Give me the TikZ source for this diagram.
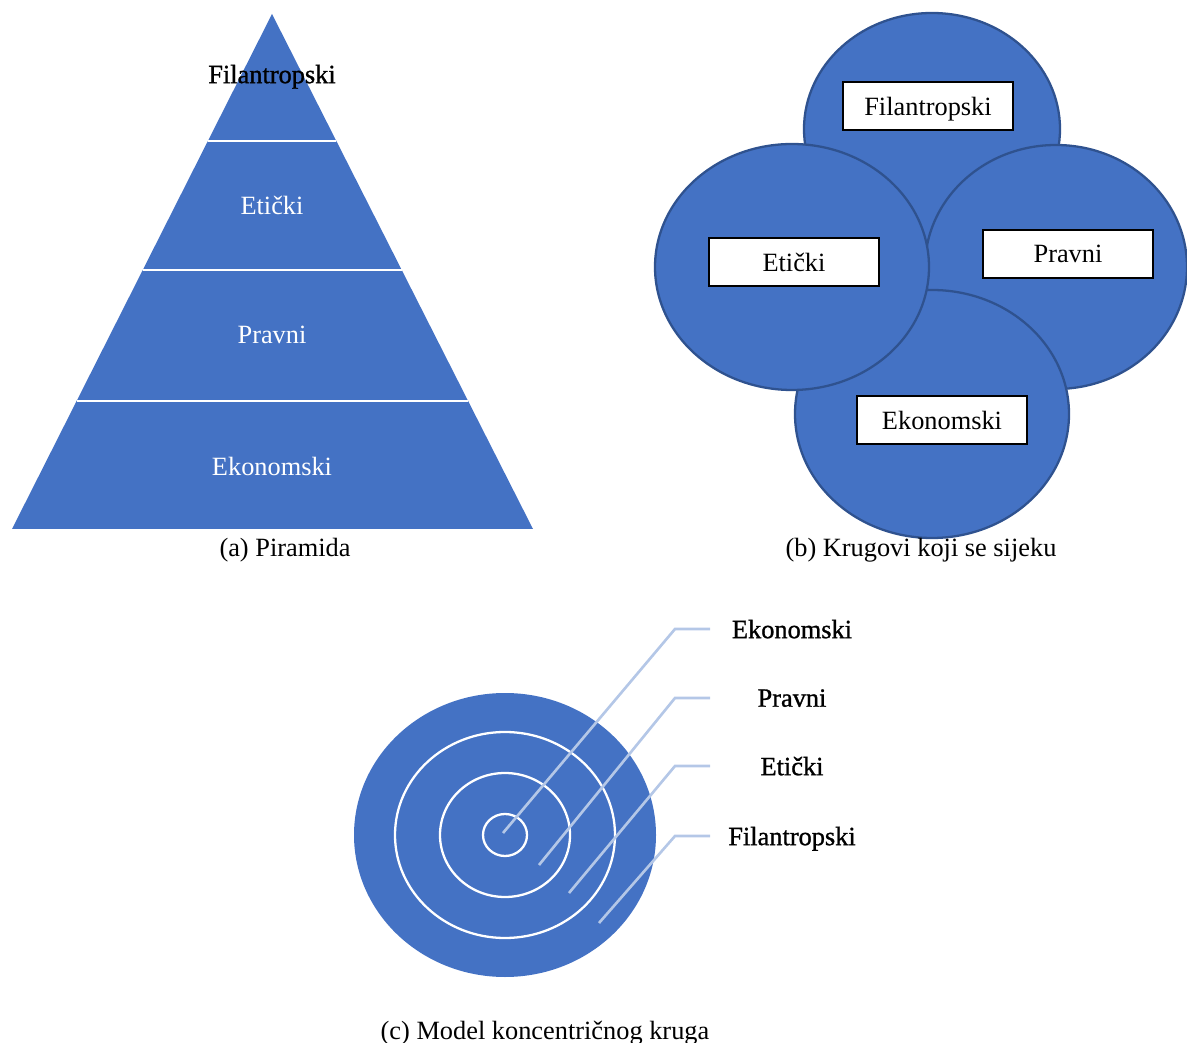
\documentclass[tikz,border=0pt]{standalone}
\usepackage{fontspec}
\setmainfont{Liberation Serif}
\newfontfamily\podebljan[FakeBold=1]{Liberation Serif}
\usetikzlibrary{calc}

\definecolor{plava}{HTML}{4472C4}
\definecolor{tamnoplava}{HTML}{2F528F}
\definecolor{svijetloplava}{HTML}{B4C7E7}

\begin{document}
\begin{tikzpicture}[x=0.02cm,y=-0.02cm,
		lab/.style={font=\fontsize{15}{18}\selectfont,inner sep=0pt,text depth=0pt},
		deblji/.style={lab,font=\fontsize{15}{18}\podebljan},
		bijeli/.style={lab,text=white},
		kutija/.style={lab,draw=black,fill=white,line width=0.85pt,minimum width=3.4cm,minimum height=0.96cm},
		krug/.style={fill=plava,draw=tamnoplava,line width=1.3pt},
		prsten/.style={draw=white,line width=1.3pt},
		vodilica/.style={draw=svijetloplava,line width=1.5pt},
		razdjel/.style={draw=white,line width=1.1pt}
		]
		
		\useasboundingbox (0,0) rectangle (1187,1043);
		
		% --- (a) pyramid
		\coordinate (vrh) at (272,14);
		\coordinate (dl) at (12,529);
		\coordinate (dd) at (533,529);
		\fill[plava] (vrh) -- (dl) -- (dd) -- cycle;
		\foreach \t in {0.2466,0.4971,0.7515}
		\draw[razdjel] ($(vrh)!\t!(dl)$) -- ($(vrh)!\t!(dd)$);
		
		\node[deblji] (pfil) at (272,74) {Filantropski};
		\node[bijeli] (peti) at (272,205) {Etički};
		\node[bijeli] (ppra) at (272,335) {Pravni};
		\node[bijeli] (peko) at (272,466) {Ekonomski};
		\node[lab] (capa) at (285,547) {(a) Piramida};
		
		% --- (b) intersecting circles
		\filldraw[krug] (932,129) ellipse (128 and 116);
		\filldraw[krug] (1056,267) ellipse (131 and 122);
		\filldraw[krug] (932,414) ellipse (137 and 124);
		\filldraw[krug] (792,267) ellipse (137 and 123);
		
		\node[kutija] (bfil) at (928,106) {Filantropski};
		\node[kutija] (beti) at (794,262) {Etički};
		\node[kutija] (bpra) at (1068,254) {Pravni};
		\node[kutija] (beko) at (942,420) {Ekonomski};
		\node[lab] (capb) at (921,547) {(b) Krugovi koji se sijeku};
		
		% --- (c) concentric circles
		\fill[plava] (505,835) ellipse (151 and 142);
		\draw[prsten] (505,835) ellipse (110 and 103);
		\draw[prsten] (505,835) ellipse (65 and 62);
		\draw[prsten] (505,835) ellipse (22 and 21);
		
		\foreach \i/\ime/\sx/\sy/\ly in {1/Ekonomski/503/833/629,2/Pravni/539/865/698,3/Etički/569/893/766,4/Filantropski/599/923/836}{
			\coordinate (p\i) at (\sx,\sy);
			\coordinate (s\i) at (675,\ly);
			\coordinate (k\i) at (710,\ly);
			\node[deblji] (l\i) at (792,\ly) {\ime};
			\draw[vodilica] (p\i) -- (s\i) -- (k\i);
		}
		
		\node[lab] (capc) at (545,1030) {(c) Model koncentričnog kruga};
		
	\end{tikzpicture}
\end{document}
